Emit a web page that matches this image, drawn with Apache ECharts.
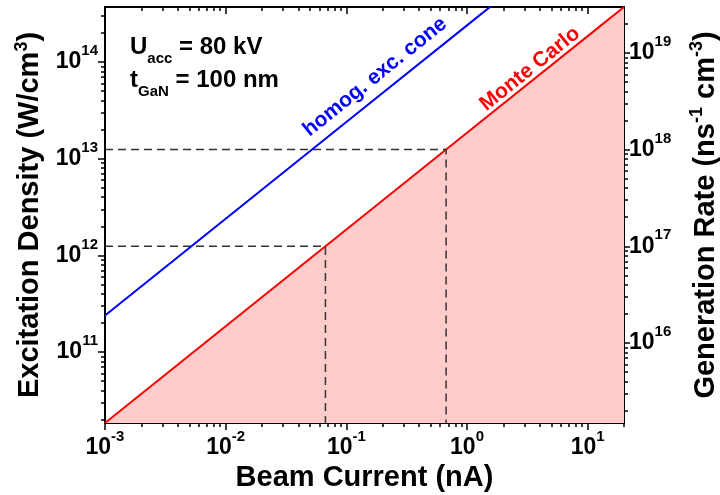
<!DOCTYPE html>
<html>
<head>
<meta charset="utf-8">
<script src="https://cdn.jsdelivr.net/npm/echarts@6/dist/echarts.min.js"></script>
<style>
  html, body { margin: 0; padding: 0; background: #fff; }
  #chart { width: 720px; height: 495px; }
</style>
</head>
<body>
<div id="chart"></div>
<script>
// Beam current (nA)
const beamCurrent = [0.001, 0.01, 0.1, 1, 10, 20];
// Excitation density (W/cm^3) for both models
const monteCarlo = [1.85e10, 1.85e11, 1.85e12, 1.85e13, 1.85e14, 3.7e14];
const homogCone = [2.39e11, 2.39e12, 2.39e13, 2.39e14, 2.39e15, 4.78e15];
// Generation-rate guide levels (ns^-1 cm^-3) and the beam currents where Monte Carlo reaches them
const guideRates = [1e17, 1e18];
const guideCurrents = [0.0671, 0.671];
// Axis ranges
const currentRange = [0.001, 20];
const densityRange = [1.85e10, 3.7e14];
const rateRange = [1.491e15, 2.982e19];
// Major tick values
const currentMajor = [1e-3, 1e-2, 1e-1, 1, 10];
const densityMajor = [1e11, 1e12, 1e13, 1e14];
const rateMajor = [1e16, 1e17, 1e18, 1e19];

const FONT = '"Liberation Sans", Arial, Helvetica, sans-serif';
const AXIS_COLOR = '#000';

// 2..9 x 10^n positions inside a range
function minorTicks(range) {
  const out = [];
  const lo = Math.floor(Math.log10(range[0]));
  const hi = Math.ceil(Math.log10(range[1]));
  for (let e = lo; e <= hi; e++) {
    for (let m = 2; m <= 9; m++) {
      const v = m * Math.pow(10, e);
      if (v >= range[0] && v <= range[1]) out.push(v);
    }
  }
  return out;
}

function powerLabel(v) {
  const e = Math.round(Math.log10(v));
  return '{b|10}{s|' + e + '}';
}

const labelRich = {
  b: { fontSize: 23, fontWeight: 'bold', fontFamily: FONT, color: '#000', verticalAlign: 'bottom', lineHeight: 23 },
  s: { fontSize: 15, fontWeight: 'bold', fontFamily: FONT, color: '#000', verticalAlign: 'bottom', lineHeight: 15, padding: [0, 0, 15, 0] }
};

const nameRich = {
  m: { fontSize: 29, fontWeight: 'bold', fontFamily: FONT, color: '#000', verticalAlign: 'bottom', lineHeight: 31 },
  sup: { fontSize: 18, fontWeight: 'bold', fontFamily: FONT, color: '#000', verticalAlign: 'bottom', lineHeight: 18, padding: [0, 0, 14, 0] }
};

function tickStyle(values, length, inside, width) {
  return { show: true, inside: inside, length: length, customValues: values, lineStyle: { color: AXIS_COLOR, width: width } };
}

function logAxis(range, position, extra) {
  return Object.assign({
    type: 'log',
    position: position,
    min: range[0],
    max: range[1],
    splitLine: { show: false },
    axisLine: { show: false, onZero: false },
    axisLabel: { show: false }
  }, extra);
}

function frameLine() {
  return { show: true, onZero: false, lineStyle: { color: AXIS_COLOR, width: 2 } };
}

const xAxes = [
  logAxis(currentRange, 'bottom', {
    axisLine: frameLine(),
    axisTick: tickStyle(currentMajor, 7, false, 1.5),
    axisLabel: { show: true, customValues: currentMajor, formatter: powerLabel, rich: labelRich, margin: 13 },
    name: '{m|Beam Current (nA)}',
    nameLocation: 'middle',
    nameGap: 30,
    nameTextStyle: { rich: nameRich }
  }),
  logAxis(currentRange, 'bottom', { axisTick: tickStyle(minorTicks(currentRange), 4, false, 1.5) }),
  logAxis(currentRange, 'top', { axisLine: frameLine(), axisTick: tickStyle(currentMajor, 7, true, 1.5) }),
  logAxis(currentRange, 'top', { axisTick: tickStyle(minorTicks(currentRange), 4, true, 1.5) })
];

const yAxes = [
  logAxis(densityRange, 'left', {
    axisLine: frameLine(),
    axisTick: tickStyle(densityMajor, 7, false, 1.5),
    axisLabel: { show: true, customValues: densityMajor, formatter: powerLabel, rich: labelRich, margin: 7 },
    name: '{m|Excitation Density (W/cm}{sup|3}{m|)}',
    nameLocation: 'middle',
    nameRotate: 90,
    nameGap: 54,
    nameTextStyle: { rich: nameRich }
  }),
  logAxis(densityRange, 'left', { axisTick: tickStyle(minorTicks(densityRange), 4, false, 1.5) }),
  logAxis(rateRange, 'right', {
    axisLine: frameLine(),
    axisTick: tickStyle(rateMajor, 6, false, 1.5),
    axisLabel: { show: true, customValues: rateMajor, formatter: powerLabel, rich: labelRich, margin: 5 },
    name: '{m|Generation Rate (ns}{sup|-1}{m| cm}{sup|-3}{m|)}',
    nameLocation: 'middle',
    nameRotate: 90,
    nameGap: 65,
    nameTextStyle: { rich: nameRich }
  }),
  logAxis(rateRange, 'right', { axisTick: tickStyle(minorTicks(rateRange), 4, false, 1.5) })
];

const pairs = (xs, ys) => xs.map((x, i) => [x, ys[i]]);

// dashed guides: from the left axis to the Monte Carlo curve, then down to the current axis
const guideSeries = guideRates.map((rate, i) => ({
  type: 'line',
  xAxisIndex: 0,
  yAxisIndex: 2,
  symbol: 'none',
  silent: true,
  z: 3,
  lineStyle: { color: '#333', width: 1.5, type: [8, 5] },
  data: [[currentRange[0], rate], [guideCurrents[i], rate], [guideCurrents[i], rateRange[0]]]
}));

const slopeAngle = 38.8 * Math.PI / 180;

const annotationRich = {
  m: { fontSize: 24, fontWeight: 'bold', fontFamily: FONT, fill: '#000', verticalAlign: 'bottom', padding: [0, 0, 7, 0] },
  sub: { fontSize: 15, fontWeight: 'bold', fontFamily: FONT, fill: '#000', verticalAlign: 'bottom' }
};

const option = {
  animation: false,
  backgroundColor: '#fff',
  textStyle: { fontFamily: FONT },
  grid: { left: 105, right: 96, top: 7, bottom: 72, containLabel: false, outerBoundsMode: 'none' },
  xAxis: xAxes,
  yAxis: yAxes,
  series: [
    {
      name: 'Monte Carlo',
      type: 'line',
      xAxisIndex: 0,
      yAxisIndex: 0,
      symbol: 'none',
      z: 2,
      lineStyle: { color: '#ff0000', width: 2 },
      areaStyle: { color: '#ffcccc', opacity: 1, origin: 'start' },
      data: pairs(beamCurrent, monteCarlo)
    },
    {
      name: 'homog. exc. cone',
      type: 'line',
      xAxisIndex: 0,
      yAxisIndex: 0,
      symbol: 'none',
      z: 4,
      lineStyle: { color: '#0000ff', width: 2 },
      data: pairs(beamCurrent, homogCone)
    },
    ...guideSeries
  ],
  graphic: [
    { type: 'text', left: 130, top: 35, style: { text: '{m|U}{sub|acc}{m| = 80 kV}', rich: annotationRich } },
    { type: 'text', left: 130, top: 68, style: { text: '{m|t}{sub|GaN}{m| = 100 nm}', rich: annotationRich } },
    {
      type: 'text', x: 375, y: 77, rotation: slopeAngle,
      style: { text: 'homog. exc. cone', fill: '#0000ff', font: 'bold 21px ' + FONT, align: 'center', verticalAlign: 'middle' }
    },
    {
      type: 'text', x: 530, y: 69, rotation: slopeAngle,
      style: { text: 'Monte Carlo', fill: '#ff0000', font: 'bold 21px ' + FONT, align: 'center', verticalAlign: 'middle' }
    }
  ]
};

const chart = echarts.init(document.getElementById('chart'), null, { renderer: 'canvas' });
chart.setOption(option);
</script>
</body>
</html>
